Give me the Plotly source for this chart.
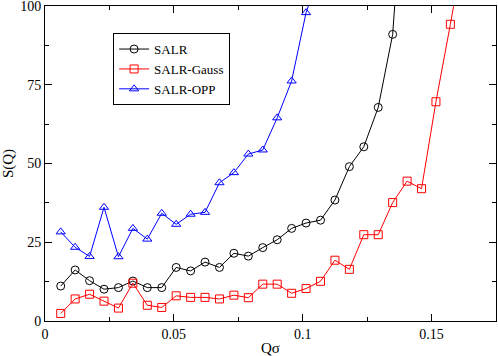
import plotly.graph_objects as go

q_black = [0.0061, 0.0117, 0.0173, 0.0229, 0.0285, 0.0341, 0.0397, 0.0453, 0.0509,
           0.0565, 0.0621, 0.0677, 0.0733, 0.0789, 0.0845, 0.0901, 0.0957, 0.1013,
           0.1069, 0.1125, 0.1181, 0.1237, 0.1293, 0.1349, 0.1405]
s_salr = [11.1, 16.2, 12.8, 10.1, 10.6, 12.7, 10.6, 10.6, 17.0, 15.9, 18.7, 17.0,
          21.5, 20.6, 23.3, 25.8, 29.4, 31.1, 32.0, 38.4, 49.0, 55.3, 67.8, 91.0, 155.0]

q_red = [0.0061, 0.0117, 0.0173, 0.0229, 0.0285, 0.0341, 0.0397, 0.0453, 0.0509,
         0.0565, 0.0621, 0.0677, 0.0733, 0.0789, 0.0845, 0.0901, 0.0957, 0.1013,
         0.1069, 0.1125, 0.1181, 0.1237, 0.1293, 0.1349, 0.1405, 0.1461, 0.1517,
         0.1573, 0.1629]
s_gauss = [2.4, 7.0, 8.5, 6.3, 4.1, 12.0, 5.0, 4.3, 8.0, 7.5, 7.5, 7.0, 8.2, 7.4,
           11.7, 11.7, 8.8, 10.3, 12.6, 19.3, 16.4, 27.4, 27.4, 37.6, 44.4, 42.0,
           69.6, 94.2, 120.0]

q_blue = [0.0061, 0.0117, 0.0173, 0.0229, 0.0285, 0.0341, 0.0397, 0.0453, 0.0509,
          0.0565, 0.0621, 0.0677, 0.0733, 0.0789, 0.0845, 0.0901, 0.0957, 0.1013,
          0.1069]
s_opp = [28.3, 23.4, 20.5, 36.1, 20.4, 29.4, 26.0, 34.2, 30.7, 33.9, 34.5, 43.9,
         47.1, 53.0, 54.3, 64.5, 76.2, 97.9, 111.0]

font = "Liberation Serif, Times New Roman, serif"

fig = go.Figure()
fig.add_trace(go.Scatter(x=q_black, y=s_salr, name="SALR", mode="lines+markers",
                         line=dict(color="black", width=1),
                         marker=dict(symbol="circle-open", size=8, color="black",
                                     line=dict(width=1))))
fig.add_trace(go.Scatter(x=q_red, y=s_gauss, name="SALR-Gauss", mode="lines+markers",
                         line=dict(color="#ff0000", width=1),
                         marker=dict(symbol="square-open", size=8, color="#ff0000",
                                     line=dict(width=1))))
fig.add_trace(go.Scatter(x=q_blue, y=s_opp, name="SALR-OPP", mode="lines+markers",
                         line=dict(color="#0000ff", width=1),
                         marker=dict(symbol="triangle-up-open", size=8, color="#0000ff",
                                     line=dict(width=1))))

axis_common = dict(showline=True, linecolor="black", linewidth=1, mirror="ticks",
                   ticks="inside", ticklen=7, tickcolor="black", showgrid=False,
                   zeroline=False, automargin=False, ticklabeloverflow="allow",
                   tickfont=dict(family=font, size=14, color="black"),
                   minor=dict(ticks="inside", ticklen=4, tickcolor="black", showgrid=False))

fig.update_xaxes(range=[0, 0.175], dtick=0.05, tick0=0,
                 title=dict(text="Qσ", font=dict(family=font, size=15, color="black")),
                 **axis_common)
fig.update_yaxes(range=[0, 100], dtick=25, tick0=0,
                 title=dict(text="S(Q)", font=dict(family=font, size=15, color="black")),
                 **axis_common)
fig.update_xaxes(minor_dtick=0.025)
fig.update_yaxes(minor_dtick=12.5)

fig.update_layout(width=498, height=356, margin=dict(l=45, r=2, t=6, b=35),
                  plot_bgcolor="white", paper_bgcolor="white",
                  font=dict(family=font, color="black"),
                  legend=dict(x=0.151, y=0.914, xanchor="left", yanchor="top",
                              bordercolor="black", borderwidth=1, bgcolor="white",
                              font=dict(family=font, size=13, color="black"),
                              itemwidth=30, tracegroupgap=0),
                  showlegend=True)

fig.write_html("out.html", config={"displayModeBar": False},
               post_script="document.body.style.margin='0px';document.body.style.padding='0px';")
